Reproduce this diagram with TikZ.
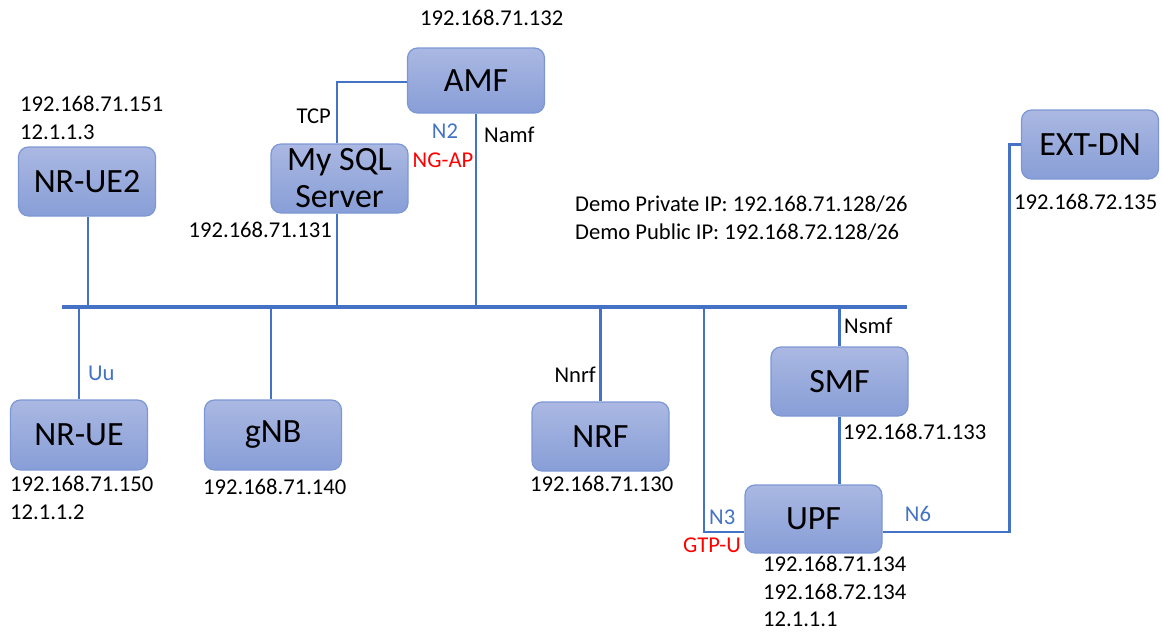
\documentclass[tikz,border=0pt]{standalone}
\usepackage{fontspec}
\setmainfont{Carlito}
\usepackage{tikz}
\usetikzlibrary{calc,positioning}
\definecolor{netBlue}{HTML}{4472C4}
\definecolor{boxTop}{HTML}{AAB8E2}
\definecolor{boxBot}{HTML}{889ED7}
\definecolor{boxEdge}{HTML}{7C97D5}
\definecolor{tagRed}{HTML}{FF0000}
\tikzset{
  nfbox/.style={rectangle, rounded corners=10pt, draw=boxEdge, line width=1.2pt,
                top color=boxTop, bottom color=boxBot, minimum width=137pt,
                minimum height=68pt, inner sep=2pt, align=center,
                font=\fontsize{34}{37}\selectfont},
  link/.style={draw=netBlue, line width=2.8pt},
  bus/.style={draw=netBlue, line width=3.2pt},
  iplabel/.style={font=\fontsize{22.6}{27.5}\selectfont, inner sep=0pt, align=left},
  ifblue/.style={font=\fontsize{22.6}{27}\selectfont, inner sep=0pt, text=netBlue},
  ifred/.style={font=\fontsize{22.6}{27}\selectfont, inner sep=0pt, text=tagRed},
}

\begin{document}
\begin{tikzpicture}[x=1pt, y=-1pt]
  \useasboundingbox (0,0) rectangle (1162,632);

  % ── Network functions ──
  \node[nfbox, minimum height=65pt] (amf) at (476,80.5) {AMF};
  \node[nfbox, minimum height=69pt] (sql) at (339.5,178.5) {My SQL\\Server};
  \node[nfbox, minimum height=69pt] (ue2) at (87,181.5) {NR-UE2};
  \node[nfbox, minimum height=70pt] (ue)  at (79,435) {NR-UE};
  \node[nfbox, minimum height=70pt] (gnb) at (273,435) {gNB};
  \node[nfbox, minimum height=69pt] (nrf) at (600.5,436.5) {NRF};
  \node[nfbox, minimum height=69pt] (smf) at (839.5,381.5) {SMF};
  \node[nfbox] (upf) at (813.5,519) {UPF};
  \node[nfbox, minimum height=69pt] (extdn) at (1090,144.5) {EXT-DN};

  % ── Shared bus ──
  \coordinate (busL) at (62,307);
  \coordinate (busR) at (907,307);
  \coordinate (n3top) at (704,307);
  \draw[bus] (busL) -- (busR);

  % ── Drops to the bus ──
  \draw[link] ([xshift=1pt]ue2.south) -- ([xshift=1pt]ue2.south |- busL);
  \draw[link] (ue.north) -- (ue.north |- busL);
  \draw[link] ([xshift=-2pt]gnb.north) -- ([xshift=-2pt]gnb.north |- busL);
  \draw[link] ([xshift=-2.5pt]sql.south) -- ([xshift=-2.5pt]sql.south |- busL);
  \draw[link] (amf.south) -- (amf.south |- busL);
  \draw[link] (nrf.north) -- (nrf.north |- busL);
  \draw[link] (smf.north) -- (smf.north |- busL);

  % ── Point-to-point links ──
  \draw[link] ([xshift=-2.5pt]sql.north) |- ([yshift=-1.5pt]amf.west);
  \draw[link] (smf.south) -- (smf.south |- upf.north);
  \draw[link] (n3top) |- ([yshift=-13pt]upf.west);
  \draw[link] ([yshift=-13pt]upf.east) -- ++(127,0) |- (extdn.west);

  % ── Interface tags ──
  \node[iplabel, anchor=east] (tcp) at (331,116) {TCP};
  \node[ifblue] (n2) at (445,131) {N2};
  \node[ifred] (ngap) at (443,160) {NG-AP};
  \node[iplabel, anchor=west] (namf) at (484,135) {Namf};
  \node[ifblue, anchor=west] (uu) at (88,373) {Uu};
  \node[iplabel, anchor=east] (nnrf) at (596,375) {Nnrf};
  \node[iplabel, anchor=west] (nsmf) at (844,326) {Nsmf};
  \node[ifblue, anchor=west] (n3) at (709,517) {N3};
  \node[ifred] (gtpu) at (712,545) {GTP-U};
  \node[ifblue] (n6) at (918,514) {N6};

  % ── Addresses ──
  \node[iplabel, anchor=west] (ipamf) at (420,18) {192.168.71.132};
  \node[iplabel, anchor=north west] (ipue2) at (20,96) {192.168.71.151\\12.1.1.3};
  \node[iplabel, anchor=east] (ipsql) at (332,230) {192.168.71.131};
  \node[iplabel, anchor=north west] (ipue) at (10,476) {192.168.71.150\\12.1.1.2};
  \node[iplabel, anchor=west] (ipgnb) at (203,487) {192.168.71.140};
  \node[iplabel, anchor=west] (ipnrf) at (530,484) {192.168.71.130};
  \node[iplabel, anchor=west] (ipsmf) at (843,432) {192.168.71.133};
  \node[iplabel, anchor=north west] (ipupf) at (763,556) {192.168.71.134\\192.168.72.134\\12.1.1.1};
  \node[iplabel, anchor=west] (ipext) at (1014,202) {192.168.72.135};
  \node[iplabel, anchor=north west] (demo) at (575,196)
    {Demo Private IP: 192.168.71.128/26\\Demo Public IP: 192.168.72.128/26};
\end{tikzpicture}
\end{document}
